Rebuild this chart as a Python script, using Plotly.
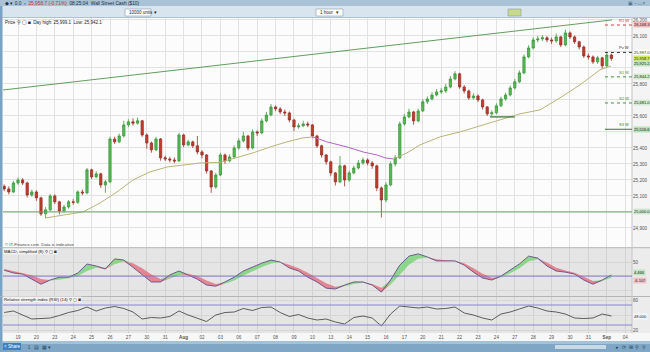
import plotly.graph_objects as go

# ---------------- data ----------------
day_labels = ['19', '20', '23', '24', '25', '26', '27', '30', '31', '<b>Aug</b>', '02', '03', '06', '07',
              '08', '09', '10', '13', '14', '15', '16', '17', '20', '21', '22', '23', '24', '27',
              '28', '29', '30', '31', '<b>Sep</b>', '04']

first_open = 25160
closes = [
    25144, 25125, 25181, 25200, 25181, 25106, 25125, 25088, 24988, 25013,
    25100, 25063, 25006, 25031, 25063, 25060, 25125, 25119, 25263, 25219,
    25238, 25169, 25188, 25456, 25438, 25475, 25544, 25563, 25555, 25570,
    25481, 25431, 25388, 25456, 25338, 25331, 25325, 25319, 25481, 25419,
    25438, 25413, 25375, 25356, 25256, 25156, 25231, 25356, 25319, 25344,
    25400, 25444, 25475, 25400, 25500, 25494, 25569, 25606, 25656, 25644,
    25625, 25619, 25575, 25531, 25538, 25550, 25544, 25475, 25413, 25356,
    25313, 25244, 25188, 25288, 25200, 25244, 25275, 25306, 25325, 25306,
    25288, 25150, 25075, 25169, 25300, 25338, 25550, 25594, 25625, 25569,
    25631, 25688, 25706, 25731, 25750, 25756, 25781, 25831, 25863, 25781,
    25756, 25713, 25725, 25700, 25656, 25613, 25620, 25663, 25706, 25731,
    25775, 25813, 25869, 25969, 26025, 26075, 26081, 26088, 26075, 26069,
    26094, 26044, 26119, 26094, 26063, 26031, 25975, 25969, 25938, 25963,
    25913, 25981, 25959]
highs = [
    25172, 25160, 25195, 25215, 25212, 25190, 25140, 25135, 25095, 25030,
    25112, 25110, 25070, 25045, 25075, 25080, 25135, 25140, 25275, 25270,
    25255, 25245, 25200, 25470, 25470, 25490, 25570, 25580, 25585, 25590,
    25575, 25490, 25440, 25470, 25462, 25350, 25345, 25340, 25495, 25488,
    25450, 25445, 25475, 25385, 25362, 25262, 25245, 25370, 25365, 25360,
    25415, 25460, 25500, 25482, 25515, 25510, 25585, 25625, 25675, 25665,
    25655, 25640, 25628, 25582, 25555, 25570, 25565, 25550, 25482, 25420,
    25362, 25320, 25250, 25350, 25295, 25258, 25290, 25325, 25340, 25335,
    25318, 25295, 25160, 25185, 25315, 25355, 25565, 25612, 25645, 25632,
    25645, 25705, 25722, 25748, 25768, 25775, 25800, 25850, 25880, 25870,
    25792, 25765, 25742, 25735, 25708, 25662, 25635, 25678, 25720, 25745,
    25790, 25830, 25885, 25985, 26042, 26092, 26100, 26105, 26098, 26090,
    26115, 26100, 26140, 26128, 26102, 26070, 26040, 25990, 25978, 25975,
    25970, 26000, 25990]
lows = [
    25130, 25110, 25118, 25170, 25168, 25090, 25095, 25070, 24975, 24960,
    25005, 25050, 24985, 24995, 25020, 25045, 25050, 25105, 25110, 25205,
    25210, 25150, 25120, 25180, 25425, 25430, 25465, 25530, 25540, 25545,
    25470, 25395, 25370, 25380, 25320, 25318, 25310, 25305, 25312, 25405,
    25410, 25400, 25360, 25335, 25240, 25120, 25145, 25225, 25300, 25310,
    25335, 25390, 25435, 25385, 25392, 25475, 25485, 25560, 25598, 25630,
    25612, 25600, 25560, 25505, 25520, 25530, 25530, 25460, 25400, 25340,
    25295, 25225, 25165, 25180, 25160, 25190, 25235, 25265, 25295, 25292,
    25270, 25130, 24965, 25060, 25160, 25285, 25330, 25540, 25585, 25545,
    25560, 25625, 25675, 25698, 25722, 25738, 25745, 25772, 25822, 25770,
    25740, 25700, 25702, 25688, 25640, 25600, 25598, 25610, 25655, 25695,
    25722, 25765, 25805, 25860, 25960, 26015, 26060, 26068, 26060, 26050,
    26058, 26030, 26035, 26080, 26050, 26015, 25962, 25952, 25925, 25925,
    25895, 25905, 25945]

ma_days = [1.47, 3.53, 4.46, 5.38, 6.25, 7.17, 8.10, 8.97, 9.89, 10.98, 12.77, 13.70, 14.62,
           15.49, 16.03, 16.79, 17.88, 18.75, 19.51, 19.95, 20.38, 21.14, 21.85, 22.93,
           24.02, 25.11, 26.20, 27.28, 28.37, 29.46, 30.54, 31.63, 32.23]
ma_prices = [24962, 25000, 25056, 25125, 25200, 25250, 25281, 25294, 25306, 25310, 25369,
             25406, 25438, 25463, 25469, 25438, 25406, 25375, 25356, 25338, 25331, 25369,
             25419, 25469, 25500, 25538, 25575, 25613, 25638, 25713, 25794, 25888, 25913]
ma_falling = (14, 20)   # index span drawn in purple

trend_days = [-0.82, 32.28]
trend_prices = [25762, 26200]

pivot_names = ['R1 W', 'Pv W', 'S1 W', 'S2 W', 'S3 W']
pivot_values = [26168.3, 25997.0, 25844.2, 25681.0, 25516.6]
pivot_colors = ['#d04040', '#333333', '#3f8f3f', '#3f8f3f', '#2f7a2f']
pivot_dash = ['dot', 'dot', 'dot', 'dot', 'solid']
pivot_start_day = 31.9

support_level = 25000
short_support = 25594
short_support_days = [25.65, 27.0]

last_price = 25958.7
second_price = 25925.2

price_ticks = [24900, 25000, 25100, 25200, 25300, 25400, 25500, 25600, 25700, 25800,
               25900, 26000, 26100, 26200]
hidden_price_ticks = [25000, 25500, 25700, 25900, 26000]   # covered by value boxes

macd = [21, 11, 7, -11, -29, -14, -4, -4, 11, 43, 36, 25, 61, 57, 32, 7, -21, -21, 4, 18,
        4, -11, -32, -36, -21, -4, 18, 32, 46, 57, 50, 29, 18, -4, -21, -43, -46, -32, -21,
        -21, -32, -57, -14, 39, 71, 79, 68, 54, 54, 54, 39, 14, -7, -14, 0, 21, 43, 71, 64,
        36, 18, 14, 7, -14, -29, -14, 4]
signal = [25, 18, 12, 3, -10, -16, -12, -8, 0, 18, 30, 30, 42, 52, 46, 28, 6, -10, -8, 4,
          8, 0, -16, -28, -27, -16, 2, 18, 32, 45, 50, 40, 28, 12, -6, -26, -38, -36, -28,
          -24, -28, -42, -30, 5, 40, 62, 66, 60, 56, 55, 46, 28, 8, -6, -4, 10, 28, 52, 60,
          48, 30, 20, 12, -2, -18, -18, -6]
rsi = [55, 58, 50, 42, 43, 44, 49, 55, 59, 66, 58, 64, 67, 63, 56, 42, 45, 44, 47, 58,
       50, 44, 37, 50, 55, 56, 63, 59, 65, 66, 55, 47, 51, 44, 40, 42, 36, 32, 45, 48,
       44, 28, 52, 68, 66, 64, 66, 62, 63, 66, 54, 50, 44, 40, 52, 56, 62, 68, 64, 58,
       56, 52, 44, 43, 44, 52, 48]
rsi_levels = [70, 30]

# ---------------- time grids ----------------
n = len(closes)
candle_days = [-0.75 + 0.25 * i for i in range(n)]
opens = [first_open] + closes[:-1]
ind_days = [-0.75 + 0.5 * j for j in range(len(macd))]

W, H = 650, 352
def px(x):
    return x / W
def py(y):
    return 1 - y / H

XR = [-0.815, 33.37]
XD = [px(3), px(632)]
FONT = 'Liberation Sans'

fig = go.Figure()

# main price panel
fig.add_trace(go.Candlestick(
    x=candle_days, open=opens, high=highs, low=lows, close=closes,
    increasing=dict(line=dict(color='#3f9a3f', width=0.8), fillcolor='#55b855'),
    decreasing=dict(line=dict(color='#9a3328', width=0.8), fillcolor='#c0392b'),
    whiskerwidth=0, showlegend=False, xaxis='x', yaxis='y'))

a, b = ma_falling
fig.add_trace(go.Scatter(x=ma_days[:a + 1], y=ma_prices[:a + 1], mode='lines',
                         line=dict(color='#b9b47a', width=1), showlegend=False))
fig.add_trace(go.Scatter(x=ma_days[a:b + 1], y=ma_prices[a:b + 1], mode='lines',
                         line=dict(color='#b065c0', width=1), showlegend=False))
fig.add_trace(go.Scatter(x=ma_days[b:], y=ma_prices[b:], mode='lines',
                         line=dict(color='#b9b47a', width=1), showlegend=False))
fig.add_trace(go.Scatter(x=trend_days, y=trend_prices, mode='lines',
                         line=dict(color='#5f9f5f', width=1), showlegend=False))
fig.add_trace(go.Scatter(x=short_support_days, y=[short_support] * 2, mode='lines',
                         line=dict(color='#2e6e2e', width=1.2), showlegend=False))

# MACD panel
upper = [max(m, s) for m, s in zip(macd, signal)]
lower = [min(m, s) for m, s in zip(macd, signal)]
fig.add_trace(go.Scatter(x=ind_days, y=signal, mode='lines', line=dict(width=0, color='#e06a78'),
                         showlegend=False, xaxis='x2', yaxis='y2'))
fig.add_trace(go.Scatter(x=ind_days, y=upper, mode='lines', line=dict(width=0),
                         fill='tonexty', fillcolor='rgba(110,210,110,0.75)',
                         showlegend=False, xaxis='x2', yaxis='y2'))
fig.add_trace(go.Scatter(x=ind_days, y=signal, mode='lines', line=dict(width=0),
                         showlegend=False, xaxis='x2', yaxis='y2'))
fig.add_trace(go.Scatter(x=ind_days, y=lower, mode='lines', line=dict(width=0),
                         fill='tonexty', fillcolor='rgba(228,100,118,0.75)',
                         showlegend=False, xaxis='x2', yaxis='y2'))
fig.add_trace(go.Scatter(x=ind_days, y=macd, mode='lines', line=dict(width=1, color='#6f5a8e'),
                         showlegend=False, xaxis='x2', yaxis='y2'))

# RSI panel
fig.add_trace(go.Scatter(x=ind_days, y=rsi, mode='lines', line=dict(width=0.8, color='#3a3a3a'),
                         showlegend=False, xaxis='x3', yaxis='y3'))

shapes = []
def rect(x0, y0, x1, y1, color, line=None, layer='below'):
    shapes.append(dict(type='rect', xref='paper', yref='paper', x0=x0, x1=x1, y0=y0, y1=y1,
                       fillcolor=color, line=dict(width=0) if line is None else line, layer=layer))

# backgrounds
rect(0, py(17.5), 1, py(333), '#f4f4f4')
rect(XD[0], py(17.5), XD[1], py(247.5), '#fcfcfc')
rect(XD[0], py(248), XD[1], py(296), '#e5e5e5')
rect(XD[0], py(297), XD[1], py(333), '#e5e5e5')
rect(XD[1], py(248), 1, py(333), '#ececec')
rect(0, py(333), 1, py(341), '#f7f7f7')
# top bars
rect(0, py(6), 1, 1, '#a9c2d5', layer='above')
rect(0, py(17.5), 1, py(6), '#d8e5ee', layer='above')
rect(0, py(18), 1, py(17.3), '#9db3c4', layer='above')
# bottom bar
rect(0, 0, 1, py(341), '#7fa6c5', layer='above')
rect(0, py(344), 1, py(341), '#a3c1d7', layer='above')
rect(px(3), py(350), px(21), py(343), '#3d7fc1', layer='above')
rect(px(555), py(349), px(606), py(345), '#c9dae7', layer='above')
# left border
rect(0, 0, px(2.5), py(6), '#7aa2c2', layer='above')
# dropdown boxes
rect(px(125), py(16), px(151), py(9), '#ffffff', line=dict(color='#8a9aa8', width=0.6), layer='above')
rect(px(316), py(16), px(343), py(9), '#ffffff', line=dict(color='#8a9aa8', width=0.6), layer='above')
rect(px(508), py(16), px(521), py(9), '#c9d98a', line=dict(color='#8a9aa8', width=0.6), layer='above')
# panel separators / axis border
for yy in (247.7, 296.5):
    shapes.append(dict(type='line', xref='paper', yref='paper', x0=0, x1=1, y0=py(yy), y1=py(yy),
                       line=dict(color='#b5b5b5', width=1), layer='above'))
shapes.append(dict(type='line', xref='paper', yref='paper', x0=XD[1], x1=XD[1], y0=py(333), y1=py(17.5),
                   line=dict(color='#c4c4c4', width=1), layer='above'))

# price reference lines
shapes.append(dict(type='line', xref='x domain', yref='y', x0=0, x1=1, y0=support_level, y1=support_level,
                   line=dict(color='#6aa66a', width=1), layer='above'))
for v, c, d in zip(pivot_values, pivot_colors, pivot_dash):
    shapes.append(dict(type='line', xref='x', yref='y', x0=pivot_start_day, x1=XR[1], y0=v, y1=v,
                       line=dict(color=c, width=1, dash=d), layer='above'))
# MACD zero line, RSI levels
shapes.append(dict(type='line', xref='x2 domain', yref='y2', x0=0, x1=1, y0=0, y1=0,
                   line=dict(color='#7d74c8', width=1)))
for lv in rsi_levels:
    shapes.append(dict(type='line', xref='x3 domain', yref='y3', x0=0, x1=1, y0=lv, y1=lv,
                       line=dict(color='#8a86d2', width=1)))

ann = []
def text(x, y, t, size=4.8, color='#333', xanchor='left', bg=None, xref='paper', yref='paper',
         yanchor='middle'):
    d = dict(x=x, y=y, xref=xref, yref=yref, text=t, showarrow=False, xanchor=xanchor,
             yanchor=yanchor, font=dict(family=FONT, size=size, color=color))
    if bg:
        d.update(bgcolor=bg, borderpad=0)
    ann.append(d)

# header texts
text(px(3), py(3.2), '◆ ▾ 0.0  ▫  <span style="color:#c0392b">25,958.7 (-0.71%)</span>  '
     '08:25:04  Wall Street Cash ($10)', color='#1f2f3f')
text(px(648), py(3.2), '▣ – □ ×', color='#4f6b80', xanchor='right')
text(px(127), py(12.5), '10000 units ▾', size=4.5, color='#222')
text(px(318), py(12.5), '1 hour', size=4.5, color='#222')
text(px(341), py(12.5), '▾', size=4.5, color='#222', xanchor='right')
text(px(3), py(23), 'Price ⚲ ▢ ◙  Day high: 25,999.1  Low: 25,942.1', size=4.5, color='#222')
text(px(3), py(244.5), '© IT-Finance.com  Data is indicative', size=4.3, color='#444')
text(px(3), py(251.5), 'MACD, simplified (8) ⚲ ▢ ◙', size=4.3, color='#222', bg='#f2f2f2')
text(px(3), py(299.5), 'Relative strength index (RSI) (14) ⚲ ▢ ◙', size=4.3, color='#222', bg='#f2f2f2')
text(px(12), py(346.5), '< Share', size=4.5, color='#ffffff', xanchor='center')
text(px(25), py(346.5), '⇩  ▤  ▦ ▾', size=5, color='#24465f')
text(px(648), py(346.5), '▸  ⟳  ⊞  ⚲  ⚲', size=5, color='#24465f', xanchor='right')

# pivot labels and boxes
box_bg = ['#f3b9b9', '#ffffff', '#d4ecd4', '#d4ecd4', '#b9e0b9']
for name, v, c, bg in zip(pivot_names, pivot_values, pivot_colors, box_bg):
    text(33.3, v, name, size=4, color=c, xanchor='right', xref='x', yref='y', yanchor='bottom')
    text(px(633), v, f'{v:,.1f}', size=4, color='#222', bg=bg, yref='y')
text(px(633), last_price, f'{last_price:,.1f}', size=4, color='#222', bg='#d2ec5a', yref='y')
text(px(633), second_price, f'{second_price:,.1f}', size=4, color='#222', bg='#bfe6bf', yref='y')
text(px(633), support_level, f'{support_level:,.1f}', size=4, color='#222', bg='#cfe9cf', yref='y')
text(px(633), 13, '4.466', size=4, color='#222', bg='#bfe6bf', yref='y2')
text(px(633), -14, '-6.107', size=4, color='#222', bg='#f3c2c8', yref='y2')
text(px(633), rsi[-1], f'{rsi[-1]:.3f}', size=4, color='#222', bg='#f6f6f6', yref='y3')

tickfont = dict(family=FONT, size=4.6, color='#555')
xcommon = dict(range=XR, domain=XD, tickvals=list(range(len(day_labels))), showgrid=True,
               zeroline=False, showline=False, ticks='', fixedrange=True)
price_ticktext = ['' if t in hidden_price_ticks else f'{t:,}' for t in price_ticks]
fig.update_layout(
    width=W, height=H, margin=dict(l=0, r=0, t=0, b=0),
    paper_bgcolor='#f4f4f4', plot_bgcolor='rgba(0,0,0,0)',
    showlegend=False, shapes=shapes, annotations=ann,
    xaxis=dict(**xcommon, showticklabels=False, gridcolor='#e2e2e2', anchor='y',
               rangeslider=dict(visible=False)),
    xaxis2=dict(**xcommon, showticklabels=False, gridcolor='#d2d2d2', anchor='y2', matches='x'),
    xaxis3=dict(**xcommon, ticktext=day_labels, showticklabels=True, tickfont=tickfont,
                gridcolor='#d2d2d2', anchor='y3', matches='x'),
    yaxis=dict(domain=[py(247), py(18)], range=[24781, 26212], side='right',
               tickvals=price_ticks, ticktext=price_ticktext, tickfont=tickfont,
               gridcolor='#e2e2e2', zeroline=False, ticks='', anchor='x'),
    yaxis2=dict(domain=[py(296), py(248)], range=[-71, 100], side='right',
                tickvals=[-50, 50], ticktext=['', '50'], tickfont=tickfont, gridcolor='#d6d6d6',
                zeroline=False, ticks='', anchor='x2'),
    yaxis3=dict(domain=[py(333), py(297)], range=[14, 86], side='right',
                tickvals=[20, 50, 80], ticktext=['20', '', '80'], tickfont=tickfont,
                gridcolor='#d6d6d6', zeroline=False, ticks='', anchor='x3'),
    font=dict(family=FONT),
)

fig.write_html('out.html')
